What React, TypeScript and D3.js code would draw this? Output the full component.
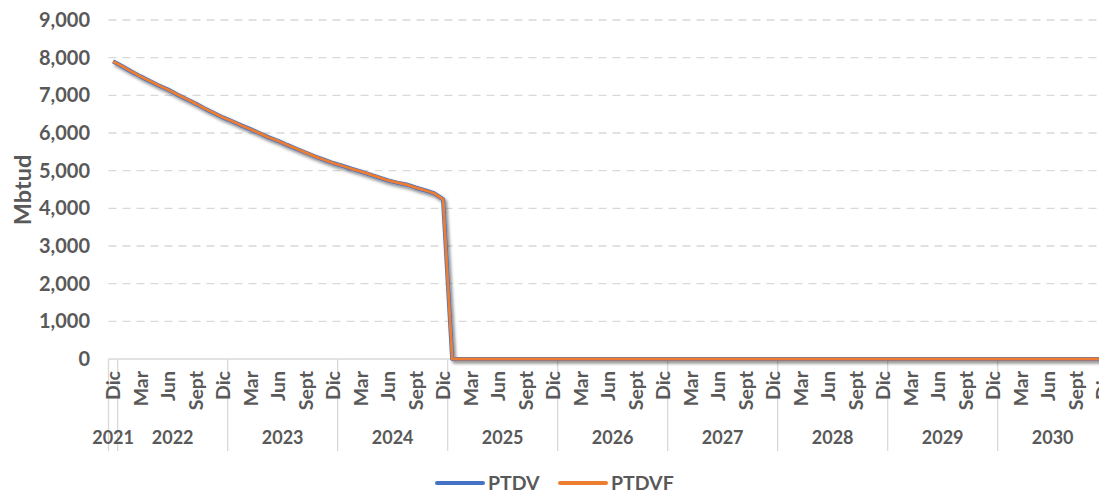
import React from "react";
import * as d3 from "d3";

// monthly categories: Dic 2021 then Ene..Dic for 2022-2030
const years = ["2021", "2022", "2023", "2024", "2025", "2026", "2027", "2028", "2029", "2030"];
const monthNames = ["Ene", "Feb", "Mar", "Abr", "May", "Jun", "Jul", "Ago", "Sept", "Oct", "Nov", "Dic"];
const shownMonths = ["Mar", "Jun", "Sept", "Dic"];
const yTicks = [0, 1000, 2000, 3000, 4000, 5000, 6000, 7000, 8000, 9000];

// Mbtud, one value per month starting Dic 2021
const ptdv = [
  7900, 7770, 7630, 7500, 7380, 7260, 7150, 7020, 6900, 6780, 6650, 6530, 6410,
  6310, 6200, 6100, 5990, 5880, 5790, 5680, 5580, 5480, 5380, 5290, 5200,
  5130, 5050, 4980, 4900, 4820, 4740, 4680, 4630, 4550, 4480, 4400, 4240,
  0, 0, 0, 0, 0, 0, 0, 0, 0, 0, 0, 0,
  0, 0, 0, 0, 0, 0, 0, 0, 0, 0, 0, 0,
  0, 0, 0, 0, 0, 0, 0, 0, 0, 0, 0, 0,
  0, 0, 0, 0, 0, 0, 0, 0, 0, 0, 0, 0,
  0, 0, 0, 0, 0, 0, 0, 0, 0, 0, 0, 0,
  0, 0, 0, 0, 0, 0, 0, 0, 0, 0, 0, 0,
];
const ptdvf = ptdv;

const series = [
  { name: "PTDV", values: ptdv, color: "#4472C4", width: 4.2 },
  { name: "PTDVF", values: ptdvf, color: "#ED7D31", width: 2.8 },
];

const width = 1099;
const height = 492;
const font = "Lato, 'Open Sans', sans-serif";
const grey = "#595959";

const App = () => {
  const cats: { year: string; month: string }[] = [{ year: years[0], month: "Dic" }];
  years.slice(1).forEach(y => monthNames.forEach(m => cats.push({ year: y, month: m })));

  const left = 108.5;
  const step = 110 / 12;
  const x = d3.scaleBand<number>()
    .domain(cats.map((_, i) => i))
    .range([left, left + step * cats.length])
    .padding(0);
  const y = d3.scaleLinear().domain([0, 9000]).range([359, 20]);

  const line = d3.line<number>()
    .x((_, i) => (x(i) as number) + x.bandwidth() / 2)
    .y(d => y(d));

  // year group boundaries
  const groups = years.map(yr => {
    const idx = cats.map((c, i) => (c.year === yr ? i : -1)).filter(i => i >= 0);
    const x0 = x(idx[0]) as number;
    const x1 = (x(idx[idx.length - 1]) as number) + x.bandwidth();
    return { yr, x0, x1 };
  });

  return (
    <svg width={width} height={height} style={{ position: "absolute", left: 0, top: 0, background: "#fff" }}>
      <defs>
        <filter id="shadow" x="-5%" y="-5%" width="110%" height="110%">
          <feDropShadow dx="2" dy="2.5" stdDeviation="1.8" floodColor="#000" floodOpacity="0.45" />
        </filter>
      </defs>

      {/* gridlines */}
      {yTicks.filter(t => t > 0).map(t => (
        <line key={t} x1={left} x2={width} y1={y(t)} y2={y(t)} stroke="#D9D9D9" strokeWidth={1.3} strokeDasharray="8,6" />
      ))}

      {/* y labels */}
      {yTicks.map(t => (
        <text key={t} x={90} y={y(t)} dy="0.35em" textAnchor="end" fontFamily={font} fontWeight="bold" fontSize={20} fill={grey}>
          {d3.format(",")(t)}
        </text>
      ))}
      <text transform={`translate(31,190) rotate(-90)`} textAnchor="middle" fontFamily={font} fontWeight="bold" fontSize={23.5} fill={grey}>
        Mbtud
      </text>

      {/* x axis */}
      <line x1={left} x2={width} y1={y(0)} y2={y(0)} stroke="#D9D9D9" strokeWidth={1.5} />
      {groups.map(g => (
        <line key={"b" + g.yr} x1={g.x1} x2={g.x1} y1={y(0)} y2={451} stroke="#D9D9D9" strokeWidth={1.3} />
      ))}
      <line x1={left} x2={left} y1={y(0)} y2={451} stroke="#D9D9D9" strokeWidth={1.3} />
      {cats.map((c, i) =>
        shownMonths.includes(c.month) ? (
          <text
            key={"m" + i}
            transform={`translate(${(x(i) as number) + x.bandwidth() / 2 + 7},371) rotate(-90)`}
            textAnchor="end"
            fontFamily={font}
            fontWeight="bold"
            fontSize={19.5}
            fill={grey}
          >
            {c.month}
          </text>
        ) : null
      )}
      {groups.map(g => (
        <text key={"y" + g.yr} x={(g.x0 + g.x1) / 2} y={444} textAnchor="middle" fontFamily={font} fontWeight="bold" fontSize={18} fill={grey}>
          {g.yr}
        </text>
      ))}

      {/* series */}
      <g filter="url(#shadow)">
        {series.map(s => (
          <path key={s.name} d={line(s.values) || ""} fill="none" stroke={s.color} strokeWidth={s.width} strokeLinejoin="round" />
        ))}
      </g>

      {/* legend */}
      {series.map((s, i) => (
        <g key={"l" + s.name} transform={`translate(${437 + i * 123},483)`}>
          <line x1={0} x2={46} y1={0} y2={0} stroke={s.color} strokeWidth={4} strokeLinecap="round" />
          <text x={51} y={0} dy="0.36em" fontFamily={font} fontWeight="bold" fontSize={19.5} fill={grey}>
            {s.name}
          </text>
        </g>
      ))}
    </svg>
  );
};

export default App;
